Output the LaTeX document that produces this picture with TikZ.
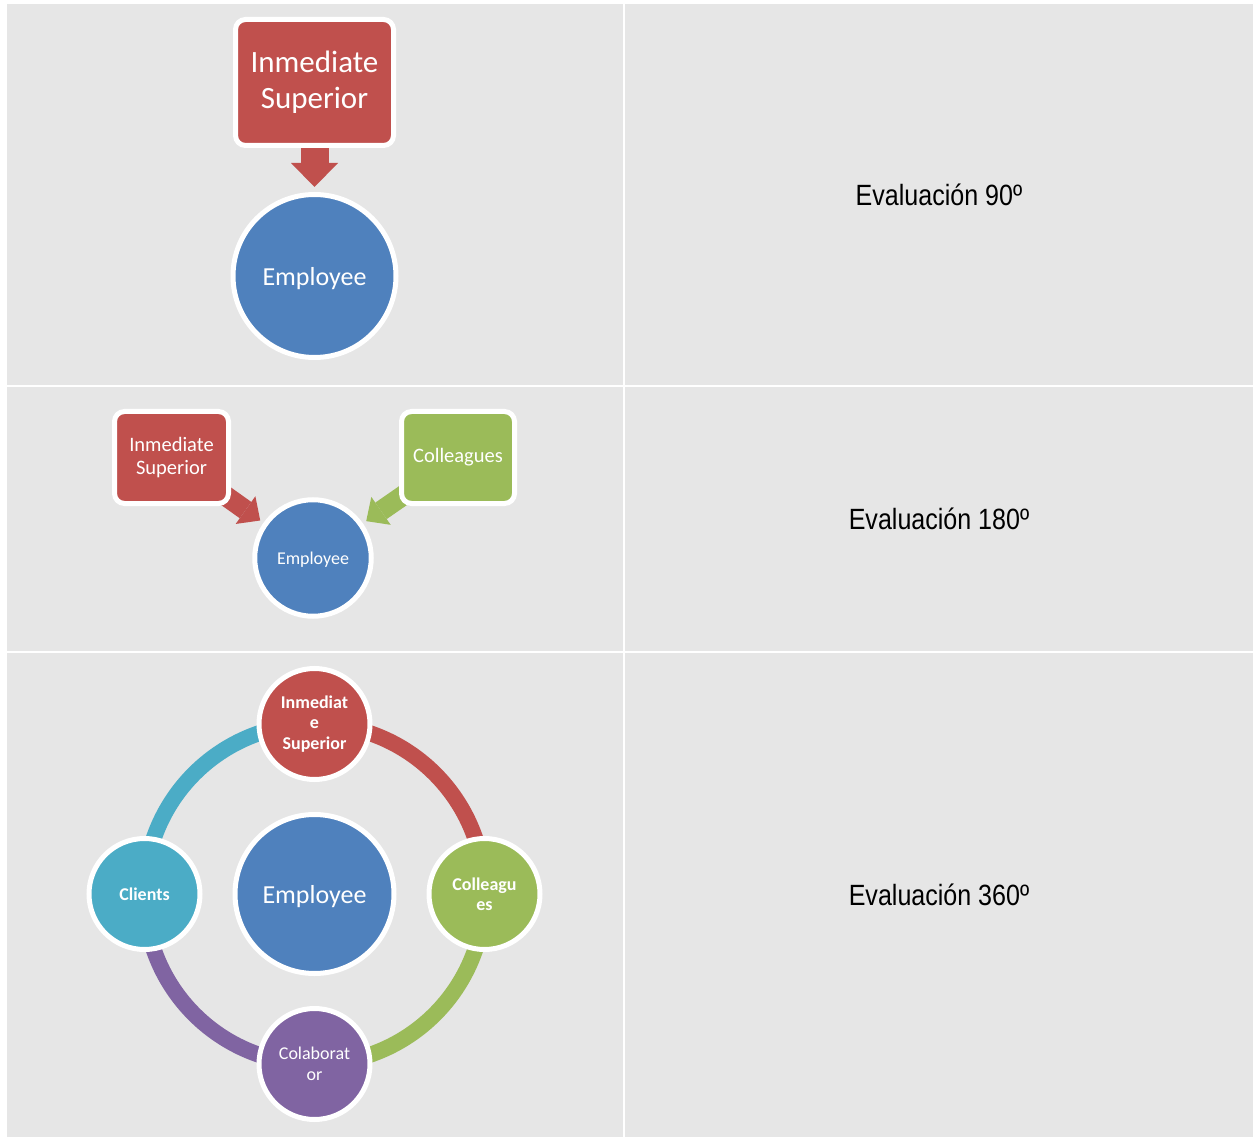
\documentclass[tikz,border=0pt]{standalone}
\usepackage{fontspec}
\setmainfont{Carlito}
\newfontfamily\narrowfont[FakeStretch=0.855]{Liberation Sans}
\usepackage{tikz}
\usetikzlibrary{
  arrows.meta,
  positioning,
  backgrounds
}
\definecolor{CellGray}{HTML}{E6E6E6}
\definecolor{RoleRed}{HTML}{C0504D}
\definecolor{RoleBlue}{HTML}{4F81BD}
\definecolor{RoleGreen}{HTML}{9BBB59}
\definecolor{RolePurple}{HTML}{8064A2}
\definecolor{RoleTeal}{HTML}{4BACC6}
\pgfdeclarelayer{cells}
\pgfsetlayers{cells,background,main}
\tikzset{
  cell/.style={
    fill=CellGray
  },
  rolebox/.style={
    draw=white,
    line width=5pt,
    rounded corners=10pt,
    text=white,
    align=center,
    inner sep=0pt
  },
  rolecircle/.style={
    circle,
    draw=white,
    line width=5pt,
    text=white,
    align=center,
    inner sep=0pt
  },
  centercircle/.style={
    rolecircle,
    fill=RoleBlue,
    text depth=0pt
  },
  orbitnode/.style={
    rolecircle,
    minimum size=111pt,
    font=\fontsize{18}{20.5}\selectfont\bfseries
  },
  feedbig/.style={
    line width=28pt,
    -{Triangle[length=24pt,width=47pt,line width=0pt]},
    shorten >=5pt
  },
  feedsmall/.style={
    line width=20pt,
    -{Triangle[length=18pt,width=34pt,line width=0pt]},
    shorten >=4pt
  },
  orbitarc/.style={
    line width=16pt
  },
  evallabel/.style={
    font=\narrowfont\fontsize{29.3}{34}\selectfont,
    inner sep=0pt
  }
}

\begin{document}
\begin{tikzpicture}[
  x=1pt,
  y=1pt,
  node distance=30pt
]

  \useasboundingbox (0,0) rectangle (1256,-1139);

  % table cells
  \begin{pgfonlayer}{cells}
    \fill[white] (0,0) rectangle (1256,-1139);
    \foreach \top/\bottom in {4/385, 387/651, 653/1137} {
      \fill[cell] (7,-\top) rectangle (623,-\bottom);
      \fill[cell] (625,-\top) rectangle (1253,-\bottom);
    }
  \end{pgfonlayer}

  % 90
  \node[
    centercircle,
    minimum size=163pt,
    font=\fontsize{26}{31}\selectfont
  ] (emp1) at (314.5,-276) {Employee};

  \node[
    rolebox,
    fill=RoleRed,
    minimum width=158pt,
    minimum height=126pt,
    above=44pt of emp1,
    font=\fontsize{31}{36}\selectfont
  ] (sup1) {Inmediate\\Superior};

  \node[
    evallabel
  ] (eval90) at (939,-194.5) {Evaluación 90º};

  % 180
  \node[
    centercircle,
    minimum size=116.5pt,
    font=\fontsize{18}{21}\selectfont
  ] (emp2) at (313,-558) {Employee};

  \node[
    rolebox,
    fill=RoleRed,
    minimum width=114pt,
    minimum height=92pt,
    font=\fontsize{20.5}{23.5}\selectfont
  ] (sup2) at (171.5,-457.5) {Inmediate\\Superior};

  \node[
    rolebox,
    fill=RoleGreen,
    minimum width=113pt,
    minimum height=92pt,
    font=\fontsize{20.5}{23.5}\selectfont
  ] (col2) at (458,-457.5) {Colleagues};

  \node[
    evallabel
  ] (eval180) at (939,-519) {Evaluación 180º};

  % 360
  \node[
    centercircle,
    minimum size=159pt,
    font=\fontsize{26}{31}\selectfont
  ] (emp3) at (314.5,-894) {Employee};

  \node[
    orbitnode,
    fill=RoleRed,
    above=of emp3
  ] (sup3) {Inmediat\\e\\Superior};

  \node[
    orbitnode,
    fill=RoleGreen,
    right=of emp3
  ] (col3) {Colleagu\\es};

  \node[
    orbitnode,
    fill=RolePurple,
    below=of emp3,
    font=\fontsize{18}{20.5}\selectfont
  ] (clb3) {Colaborat\\or};

  \node[
    orbitnode,
    fill=RoleTeal,
    left=of emp3
  ] (cli3) {Clients};

  \node[
    evallabel
  ] (eval360) at (939,-895) {Evaluación 360º};

  % arrows and ring under the nodes
  \begin{scope}[on background layer]
    \draw[
      feedbig,
      draw=RoleRed
    ]
    (sup1) --
    (emp1);

    \draw[
      feedsmall,
      draw=RoleRed
    ]
    (sup2.center) --
    (emp2);

    \draw[
      feedsmall,
      draw=RoleGreen
    ]
    (col2.center) --
    (emp2);

    \draw[
      orbitarc,
      draw=RoleRed
    ]
    (sup3.center) to[bend left=45]
    (col3.center);

    \draw[
      orbitarc,
      draw=RoleGreen
    ]
    (col3.center) to[bend left=45]
    (clb3.center);

    \draw[
      orbitarc,
      draw=RolePurple
    ]
    (clb3.center) to[bend left=45]
    (cli3.center);

    \draw[
      orbitarc,
      draw=RoleTeal
    ]
    (cli3.center) to[bend left=45]
    (sup3.center);
  \end{scope}

\end{tikzpicture}
\end{document}
